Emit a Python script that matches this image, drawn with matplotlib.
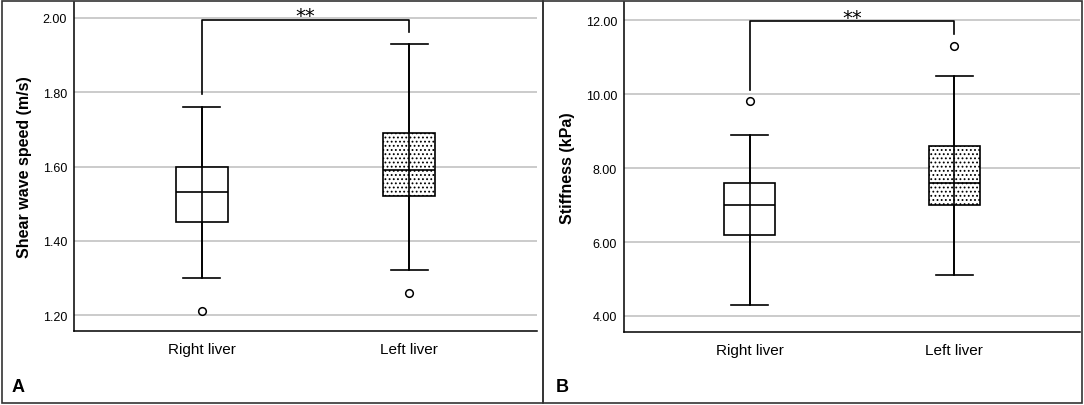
import matplotlib.pyplot as plt
from matplotlib.patches import Rectangle

plt.rcParams['font.family'] = ['Liberation Sans', 'DejaVu Sans']
plt.rcParams['hatch.linewidth'] = 0.8

groups = ['Right liver', 'Left liver']

# panel A: shear wave speed (m/s)
swv_q1 = [1.45, 1.52]
swv_med = [1.53, 1.59]
swv_q3 = [1.60, 1.69]
swv_lo = [1.30, 1.32]
swv_hi = [1.76, 1.93]
swv_out = [[1.21], [1.26]]
swv_bracket = [1.795, 1.995, 1.962]
swv_ticks = [1.20, 1.40, 1.60, 1.80, 2.00]

# panel B: stiffness (kPa)
stf_q1 = [6.2, 7.0]
stf_med = [7.0, 7.6]
stf_q3 = [7.6, 8.6]
stf_lo = [4.3, 5.1]
stf_hi = [8.9, 10.5]
stf_out = [[9.8], [11.3]]
stf_bracket = [10.1, 11.97, 11.62]
stf_ticks = [4.0, 6.0, 8.0, 10.0, 12.0]


def draw_panel(ax, q1, med, q3, lo, hi, out, bracket, ticks, ylim, ylabel):
    stats = []
    for i in range(len(groups)):
        stats.append(dict(q1=q1[i], med=med[i], q3=q3[i], whislo=lo[i],
                          whishi=hi[i], fliers=out[i], label=groups[i]))
    pos = [1, 2]
    bp = ax.bxp(stats, positions=pos, widths=0.25, patch_artist=True,
                showfliers=True, capwidths=0.18,
                boxprops=dict(linewidth=1.2, edgecolor='black'),
                medianprops=dict(color='black', linewidth=1.2),
                whiskerprops=dict(color='black', linewidth=1.2),
                capprops=dict(color='black', linewidth=1.2),
                flierprops=dict(marker='o', markersize=5.5, markerfacecolor='white',
                                markeredgecolor='black', markeredgewidth=1.1))
    bp['boxes'][0].set_facecolor('white')
    bp['boxes'][1].set_facecolor('white')
    bp['boxes'][1].set_hatch('....')
    for b in bp['boxes']:
        b.set_zorder(3)
    for m in bp['medians']:
        m.set_zorder(5)
    # the whisker line runs straight through the box in the original
    ax.vlines(pos, lo, hi, color='black', linewidth=1.2, zorder=4)

    ax.plot([1, 1, 2, 2], [bracket[0], bracket[1], bracket[1], bracket[2]],
            color='black', linewidth=1.2, zorder=3)
    ax.annotate('**', (1.5, bracket[1]), xytext=(0, -1), textcoords='offset points',
                ha='center', va='baseline', fontsize=14, family='DejaVu Sans')

    ax.set_xlim(0.385, 2.615)
    ax.set_ylim(*ylim)
    ax.set_yticks(ticks)
    ax.set_yticklabels(['%.2f' % t for t in ticks])
    ax.grid(axis='y', color='#bdbdbd', linewidth=1.1, zorder=0)
    ax.set_axisbelow(True)
    ax.tick_params(length=0, labelsize=9, pad=5)
    ax.tick_params(axis='x', labelsize=11, pad=8)
    for s in ['top', 'right']:
        ax.spines[s].set_visible(False)
    for s in ['left', 'bottom']:
        ax.spines[s].set_linewidth(1.1)
    ax.set_ylabel(ylabel, fontsize=11.5, fontweight='bold', labelpad=8)


fig = plt.figure(figsize=(10.84, 4.06), dpi=100)
axA = fig.add_axes([74 / 1084, 1 - 332 / 406, (537 - 74) / 1084, (332 - 3) / 406])
axB = fig.add_axes([624 / 1084, 1 - 333 / 406, (1080 - 624) / 1084, (333 - 3) / 406])

draw_panel(axA, swv_q1, swv_med, swv_q3, swv_lo, swv_hi, swv_out, swv_bracket,
           swv_ticks, (1.157, 2.043), 'Shear wave speed (m/s)')
draw_panel(axB, stf_q1, stf_med, stf_q3, stf_lo, stf_hi, stf_out, stf_bracket,
           stf_ticks, (3.567, 12.49), 'Stiffness (kPa)')

# panel frames
for x0, x1 in [(2, 543), (543, 1082)]:
    fig.patches.append(Rectangle((x0 / 1084, 2 / 406), (x1 - x0) / 1084, 402 / 406,
                                 transform=fig.transFigure, fill=False,
                                 edgecolor='#333333', linewidth=1.2))
fig.text(12 / 1084, 1 - 388 / 406, 'A', fontsize=13, fontweight='bold', va='center')
fig.text(556 / 1084, 1 - 388 / 406, 'B', fontsize=13, fontweight='bold', va='center')

fig.savefig('out.png', dpi=100)
